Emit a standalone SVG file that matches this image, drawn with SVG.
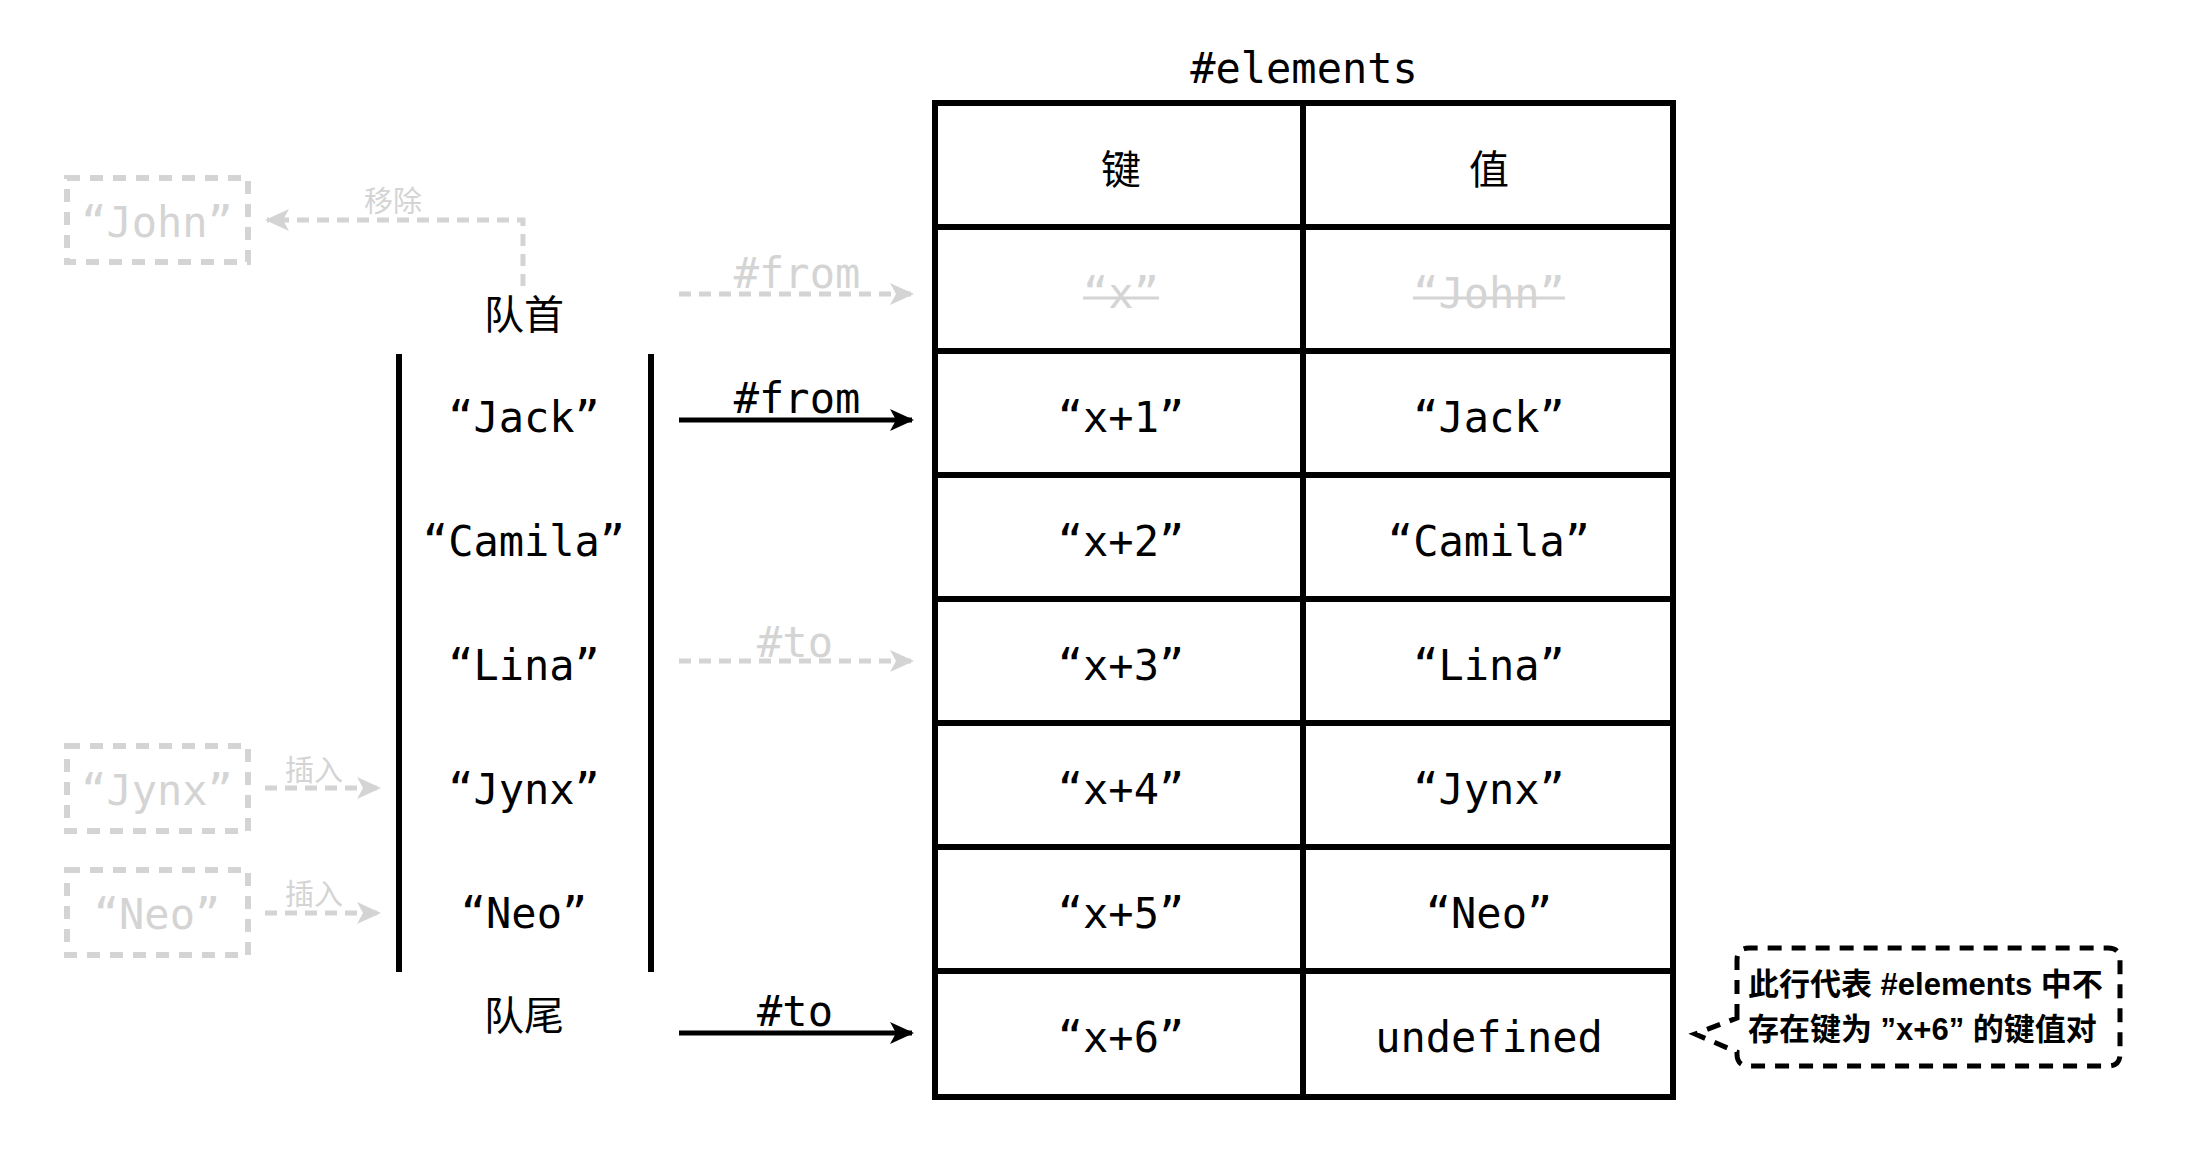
<svg xmlns="http://www.w3.org/2000/svg" width="2186" height="1162" viewBox="0 0 2186 1162">
<defs>
<style>
.mono{font-family:"DejaVu Sans Mono","Liberation Mono",monospace;font-size:42px;fill:#000}
.gray{fill:#d4d4d4}
.cjk{font-family:"Noto Sans CJK SC","Noto Sans",sans-serif;font-size:40px;fill:#000}
.small{font-family:"Noto Sans CJK SC",sans-serif;font-size:29px;fill:#d4d4d4}
.tbl{fill:none;stroke:#000;stroke-width:6}
.bar{stroke:#000;stroke-width:6}
.arrow{stroke:#000;stroke-width:5;fill:none}
.garrow{stroke:#d4d4d4;stroke-width:5;fill:none;stroke-dasharray:12 8}
.gbox{fill:none;stroke:#d4d4d4;stroke-width:6;stroke-dasharray:13 10}
.note{font-family:"Liberation Sans","Noto Sans CJK SC",sans-serif;font-size:31px;font-weight:bold;fill:#000}
</style>
<marker id="ah" markerWidth="24" markerHeight="24" refX="22" refY="12" orient="auto" markerUnits="userSpaceOnUse">
<path d="M0,1 L24,12 L0,23 L6,12 Z" fill="#000"/>
</marker>
<marker id="gah" markerWidth="24" markerHeight="24" refX="22" refY="12" orient="auto" markerUnits="userSpaceOnUse">
<path d="M0,1 L24,12 L0,23 L6,12 Z" fill="#d4d4d4"/>
</marker>
</defs>
<rect width="2186" height="1162" fill="#fff"/>

<g id="table">
<text class="mono" x="1304" y="83" text-anchor="middle">#elements</text>
<rect class="tbl" x="935" y="103" width="738" height="994"/>
<line class="tbl" x1="1303" y1="103" x2="1303" y2="1097"/>
<line class="tbl" x1="935" y1="227" x2="1673" y2="227"/>
<line class="tbl" x1="935" y1="351" x2="1673" y2="351"/>
<line class="tbl" x1="935" y1="475" x2="1673" y2="475"/>
<line class="tbl" x1="935" y1="599" x2="1673" y2="599"/>
<line class="tbl" x1="935" y1="723" x2="1673" y2="723"/>
<line class="tbl" x1="935" y1="847" x2="1673" y2="847"/>
<line class="tbl" x1="935" y1="971" x2="1673" y2="971"/>
<text class="cjk" x="1121" y="167" text-anchor="middle" dominant-baseline="central">键</text>
<text class="cjk" x="1489" y="167" text-anchor="middle" dominant-baseline="central">值</text>
<text class="mono gray" x="1121" y="293" text-anchor="middle" dominant-baseline="central">“x”</text>
<line x1="1083" y1="298" x2="1159" y2="298" stroke="#d4d4d4" stroke-width="3"/>
<text class="mono gray" x="1489" y="293" text-anchor="middle" dominant-baseline="central">“John”</text>
<line x1="1413" y1="298" x2="1565" y2="298" stroke="#d4d4d4" stroke-width="3"/>
<text class="mono" x="1121" y="417" text-anchor="middle" dominant-baseline="central">“x+1”</text>
<text class="mono" x="1489" y="417" text-anchor="middle" dominant-baseline="central">“Jack”</text>
<text class="mono" x="1121" y="541" text-anchor="middle" dominant-baseline="central">“x+2”</text>
<text class="mono" x="1489" y="541" text-anchor="middle" dominant-baseline="central">“Camila”</text>
<text class="mono" x="1121" y="665" text-anchor="middle" dominant-baseline="central">“x+3”</text>
<text class="mono" x="1489" y="665" text-anchor="middle" dominant-baseline="central">“Lina”</text>
<text class="mono" x="1121" y="789" text-anchor="middle" dominant-baseline="central">“x+4”</text>
<text class="mono" x="1489" y="789" text-anchor="middle" dominant-baseline="central">“Jynx”</text>
<text class="mono" x="1121" y="913" text-anchor="middle" dominant-baseline="central">“x+5”</text>
<text class="mono" x="1489" y="913" text-anchor="middle" dominant-baseline="central">“Neo”</text>
<text class="mono" x="1121" y="1037" text-anchor="middle" dominant-baseline="central">“x+6”</text>
<text class="mono" x="1489" y="1037" text-anchor="middle" dominant-baseline="central">undefined</text>
</g>

<g id="queue">
<line class="bar" x1="399" y1="354" x2="399" y2="972"/>
<line class="bar" x1="651" y1="354" x2="651" y2="972"/>
<text class="cjk" x="524" y="312" text-anchor="middle" dominant-baseline="central">队首</text>
<text class="mono" x="524" y="417" text-anchor="middle" dominant-baseline="central">“Jack”</text>
<text class="mono" x="524" y="541" text-anchor="middle" dominant-baseline="central">“Camila”</text>
<text class="mono" x="524" y="665" text-anchor="middle" dominant-baseline="central">“Lina”</text>
<text class="mono" x="524" y="789" text-anchor="middle" dominant-baseline="central">“Jynx”</text>
<text class="mono" x="524" y="913" text-anchor="middle" dominant-baseline="central">“Neo”</text>
<text class="cjk" x="524" y="1013" text-anchor="middle" dominant-baseline="central">队尾</text>
</g>

<g id="john">
<rect class="gbox" x="67" y="178" width="181" height="84"/>
<text class="mono gray" x="157" y="222" text-anchor="middle" dominant-baseline="central">“John”</text>
</g>
<g id="jynx">
<rect class="gbox" x="67" y="746" width="181" height="85"/>
<text class="mono gray" x="157" y="790" text-anchor="middle" dominant-baseline="central">“Jynx”</text>
</g>
<g id="neo">
<rect class="gbox" x="67" y="870" width="181" height="85"/>
<text class="mono gray" x="157" y="914" text-anchor="middle" dominant-baseline="central">“Neo”</text>
</g>

<g id="note">
<path d="M1737 1018 L1737 960 Q1737 948 1749 948 L2108 948 Q2120 948 2120 960 L2120 1054 Q2120 1066 2108 1066 L1749 1066 Q1737 1066 1737 1054 L1737 1052 L1695 1034 Z" fill="none" stroke="#000" stroke-width="5" stroke-dasharray="14 10"/>
<text class="note" x="1748" y="995">此行代表 #elements 中不</text>
<text class="note" x="1748" y="1040">存在键为 ”x+6” 的键值对</text>
</g>

<g id="connectors">
<line class="arrow" x1="679" y1="420" x2="912" y2="420" marker-end="url(#ah)"/>
<text class="mono" x="797" y="413" text-anchor="middle">#from</text>
<line class="arrow" x1="679" y1="1033" x2="912" y2="1033" marker-end="url(#ah)"/>
<text class="mono" x="795" y="1026" text-anchor="middle">#to</text>
<line class="garrow" x1="679" y1="294" x2="912" y2="294" marker-end="url(#gah)"/>
<text class="mono gray" x="797" y="288" text-anchor="middle">#from</text>
<line class="garrow" x1="679" y1="661" x2="912" y2="661" marker-end="url(#gah)"/>
<text class="mono gray" x="795" y="657" text-anchor="middle">#to</text>
<path class="garrow" d="M523 286 L523 220 L267 220" marker-end="url(#gah)"/>
<text class="small" x="393" y="199" text-anchor="middle" dominant-baseline="central">移除</text>
<line class="garrow" x1="265" y1="788" x2="379" y2="788" marker-end="url(#gah)"/>
<text class="small" x="314" y="768" text-anchor="middle" dominant-baseline="central">插入</text>
<line class="garrow" x1="265" y1="913" x2="379" y2="913" marker-end="url(#gah)"/>
<text class="small" x="314" y="892" text-anchor="middle" dominant-baseline="central">插入</text>
</g>
</svg>
